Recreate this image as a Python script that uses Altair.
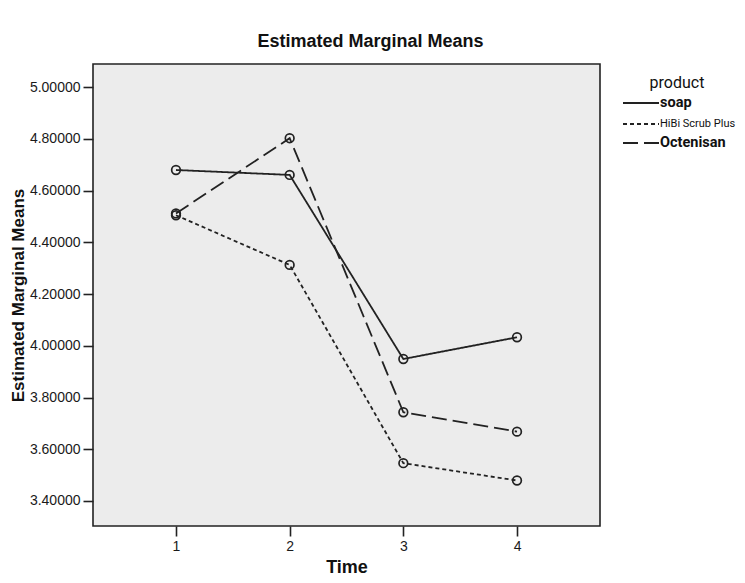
import altair as alt
import pandas as pd

times = [1, 2, 3, 4]
products = ["soap", "HiBi Scrub Plus", "Octenisan"]
soap = [4.680, 4.661, 3.949, 4.033]
hibi = [4.505, 4.313, 3.546, 3.479]
octenisan = [4.512, 4.803, 3.743, 3.668]
y_ticks = [3.4, 3.6, 3.8, 4.0, 4.2, 4.4, 4.6, 4.8, 5.0]

rows = []
for name, vals in zip(products, [soap, hibi, octenisan]):
    for t, v in zip(times, vals):
        rows.append({"Time": t, "product": name, "mean": v})
df = pd.DataFrame(rows)

x = alt.X("Time:Q", scale=alt.Scale(domain=[0.27, 4.73], nice=False, zero=False),
          axis=alt.Axis(values=times, format="d", title="Time", titleFontSize=18,
                        titleFontWeight="bold", titlePadding=5))
y = alt.Y("mean:Q", scale=alt.Scale(domain=[3.303, 5.09], nice=False, zero=False),
          axis=alt.Axis(values=y_ticks, format=".5f", title="Estimated Marginal Means",
                        titleFontSize=17, titleFontWeight="bold", titlePadding=2))

dash = alt.StrokeDash(
    "product:N",
    scale=alt.Scale(domain=products, range=[[1, 0], [4, 3], [15, 6]]),
    legend=alt.Legend(
        title="product", orient="none", legendX=525, legendY=11,
        titleFontSize=16, titleFontWeight="normal", titleAnchor="middle",
        titleColor="#111", titleFont="Roboto", titlePadding=2,
        symbolType="M-3,0H1", symbolSize=324, symbolStrokeWidth=1.8,
        symbolOffset=22,
        symbolStrokeColor="#222", labelOffset=0, labelFont="Roboto",
        labelFontSize=alt.ExprRef("datum.label == 'HiBi Scrub Plus' ? 11 : 14.5"),
        labelFontWeight=alt.ExprRef("datum.label == 'HiBi Scrub Plus' ? 'normal' : 'bold'"),
        labelColor="#111", rowPadding=4,
    ),
)

lines = alt.Chart(df).mark_line(color="#222", strokeWidth=1.8).encode(
    x=x, y=y, strokeDash=dash, detail="product:N")
points = alt.Chart(df).mark_point(shape="circle", filled=False, color="#222",
                                  size=75, strokeWidth=1.7, opacity=1).encode(
    x=x, y=y, detail="product:N")

chart = (lines + points).properties(
    width=507, height=462,
    autosize=alt.AutoSizeParams(type="none"),
    padding={"left": 85, "top": 56, "right": 137, "bottom": 49},
    title=alt.Title("Estimated Marginal Means", fontSize=18, fontWeight="bold",
                    color="#111", dx=24, offset=13, font="Liberation Sans"),
    background="white",
).configure_view(
    fill="#ECECEC", stroke="#222", strokeWidth=1.6
).configure_axis(
    grid=False, domain=False, tickColor="#222", tickWidth=1.6, tickSize=10,
    labelFont="Liberation Sans", labelFontSize=14, labelColor="#1a1a1a",
    titleFont="Liberation Sans", titleColor="#111", labelPadding=3,
)

chart.save("out.html", embed_options={"renderer": "svg", "actions": False})
